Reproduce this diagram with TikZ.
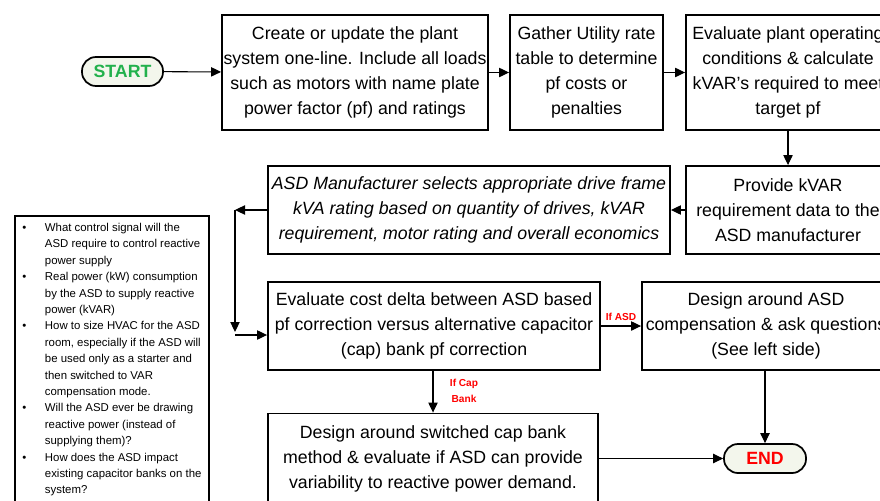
\documentclass[tikz,border=0pt]{standalone}
\usepackage{fontspec}
\setmainfont{Liberation Sans}
\usetikzlibrary{arrows.meta}
\definecolor{pillfill}{RGB}{243,246,236}
\definecolor{startgreen}{RGB}{34,177,76}
\tikzset{
	stepbox/.style={draw, line width=1.4pt, align=center, inner sep=0pt, font=\fontsize{13.3}{18.75}\selectfont},
	pill/.style={draw, line width=1.3pt, fill=pillfill, rounded corners=10.5pt, minimum height=21.75pt, inner sep=0pt, font=\bfseries\fontsize{13.3}{16}\selectfont},
	flow/.style={line width=0.8pt, -{Triangle[length=7.5pt,width=7pt]}},
	choice/.style={text=red, align=center, inner sep=0pt, font=\bfseries\fontsize{7.6}{12}\selectfont}
}

\begin{document}
\begin{tikzpicture}[x=0.75pt, y=-0.75pt]
		%%%%% START %%%%%
		\useasboundingbox (0,0) rectangle (880,500);
		\clip (0,0) rectangle (880,500);
		
		\node[pill, minimum width=60.75pt, text=startgreen] (start) at (122.5,71.5) {START};
		
		\node[stepbox, minimum width=199.5pt, minimum height=86.25pt] (oneline) at (355,72.5) {Create or update the plant\\system one-line. Include all loads\\such as motors with name plate\\power factor (pf) and ratings};
		\node[stepbox, minimum width=114.75pt, minimum height=86.25pt] (utility) at (586.5,72.5) {Gather Utility rate\\table to determine\\pf costs or\\penalties};
		\node[stepbox, minimum width=153pt, minimum height=86.25pt] (evalplant) at (788,72.5) {Evaluate plant operating\\conditions \& calculate\\kVAR’s required to meet\\target pf};
		
		\node[stepbox, minimum width=153pt, minimum height=66pt] (provide) at (788,210) {Provide kVAR\\requirement data to the\\ASD manufacturer};
		\node[stepbox, minimum width=301.5pt, minimum height=66pt, font=\itshape\fontsize{13.3}{18.75}\selectfont] (selects) at (469,210) {ASD Manufacturer selects appropriate drive frame\\kVA rating based on quantity of drives, kVAR\\requirement, motor rating and overall economics};
		
		\node[stepbox, minimum width=249pt, minimum height=66pt] (costdelta) at (434,326) {Evaluate cost delta between ASD based\\pf correction versus alternative capacitor\\(cap) bank pf correction};
		\node[stepbox, minimum width=186pt, minimum height=66pt] (asdcomp) at (766,326) {Design around ASD\\compensation \& ask questions\\(See left side)};
		
		\node[stepbox, minimum width=247.5pt, minimum height=67.5pt] (capbank) at (433,458.5) {Design around switched cap bank\\method \& evaluate if ASD can provide\\variability to reactive power demand.};
		\node[pill, minimum width=61.5pt, text=red] (finish) at (765,458.5) {END};
		
		% questions on the left
		\node[draw, line width=1.4pt, anchor=north west, inner xsep=5.5pt, inner ysep=3pt, font=\fontsize{8.55}{12.3}\selectfont] (questions) at (14,215) {%
			\begin{tabular}{@{}p{17pt}@{}l@{}}
			\textbullet & What control signal will the\\
			 & ASD require to control reactive\\
			 & power supply\\
			\textbullet & Real power (kW) consumption\\
			 & by the ASD to supply reactive\\
			 & power (kVAR)\\
			\textbullet & How to size HVAC for the ASD\\
			 & room, especially if the ASD will\\
			 & be used only as a starter and\\
			 & then switched to VAR\\
			 & compensation mode.\\
			\textbullet & Will the ASD ever be drawing\\
			 & reactive power (instead of\\
			 & supplying them)?\\
			\textbullet & How does the ASD impact\\
			 & existing capacitor banks on the\\
			 & system?
			\end{tabular}};
		
		\coordinate (bendA) at (235,210);
		\coordinate (bendB) at (235,332);
		\coordinate (bendC) at (235,335);
		
		\draw[flow] (start) -- (oneline);
		\draw[flow] (oneline) -- (utility);
		\draw[flow] (utility) -- (evalplant.west |- utility);
		\draw[flow] (evalplant) -- (provide);
		\draw[flow] (provide) -- (selects);
		\draw[flow] (selects) -- (bendA);
		\draw[flow] (bendA) -- (bendB);
		\draw[flow] (bendC) -- (costdelta.west |- bendC);
		\draw[flow] (costdelta) -- node[choice, above=4pt] {If ASD} (asdcomp);
		\draw[flow] (costdelta.south -| capbank.north) -- (capbank.north);
		\node[choice] (ifcap) at (464,391) {If Cap\\Bank};
		\draw[flow] (asdcomp.south -| finish) -- (finish);
		\draw[flow] (capbank.east |- finish) -- (finish);
		
		%%%%% END %%%%%
\end{tikzpicture}
\end{document}
